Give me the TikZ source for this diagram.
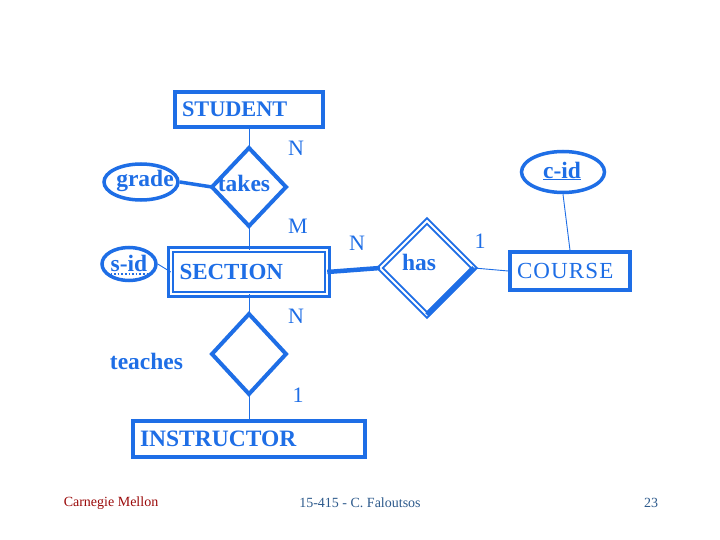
\documentclass[tikz,border=0pt]{standalone}
\usepackage{fontspec}
\setmainfont{Liberation Serif}
\usetikzlibrary{shapes.geometric}
\definecolor{erblue}{RGB}{30,110,230}
\definecolor{footblue}{RGB}{45,90,140}
\definecolor{cmured}{RGB}{155,10,10}
\tikzset{
  ent/.style={draw=erblue, line width=3.5pt, rectangle, text=erblue, align=left, inner xsep=6pt, font=\fontsize{23}{25}\selectfont},
  rel/.style={draw=erblue, line width=4pt, diamond, inner sep=0pt, outer sep=0pt},
  attr/.style={draw=erblue, line width=3.5pt, ellipse, inner sep=0pt},
  lbl/.style={text=erblue, inner sep=0pt, font=\fontsize{22}{24}\selectfont},
  blbl/.style={text=erblue, inner sep=0pt, font=\fontsize{23.5}{25}\selectfont\bfseries},
  thin/.style={draw=erblue, line width=0.9pt},
  thick/.style={draw=erblue, line width=3.5pt},
  foot/.style={inner sep=0pt, font=\fontsize{14}{16}\selectfont},
}
\begin{document}
\begin{tikzpicture}[x=1pt,y=-1pt]
\useasboundingbox (0,0) rectangle (720,540);
\fill[white] (0,0) rectangle (720,540);
% entities
\node[ent, minimum width=148, minimum height=35, text width=134] (student) at (249,109.5) {\bfseries\fontsize{22.3}{25}\selectfont STUDENT};
\node[ent, draw=none, minimum width=153, minimum height=41, text width=139] (section) at (249,272) {\bfseries SECTION};
\draw[erblue, line width=2.5pt, double=white, double distance=2pt] (section.north west) rectangle (section.south east);
\node[ent, minimum width=120, minimum height=38, text width=106] (course) at (570,271) {\addfontfeature{LetterSpace=5}COURSE};
\node[ent, minimum width=232, minimum height=36, text width=218] (instr) at (249,439) {\bfseries\fontsize{23.5}{25}\selectfont INSTRUCTOR};
% relationships
\node[rel, minimum width=74, minimum height=78] (takes) at (249,187) {};
\node[rel, minimum width=74, minimum height=80] (teaches) at (249,354) {};
\node[rel, minimum width=94, minimum height=94, line width=2pt, double=white, double distance=2pt] (has) at (427,268) {};
\draw[erblue, line width=5pt] (has.east) -- (has.south);
\node[blbl] (takesl) at (244,183) {takes};
\node[blbl] (teachesl) at (146.5,361) {teaches};
\node[blbl] (hasl) at (419,262) {has};
% attributes
\node[attr, minimum width=74, minimum height=36] (grade) at (141,182) {};
\node[blbl] (gradel) at (145,181) {grade};
\node[attr, minimum width=54, minimum height=33] (sid) at (129,264) {};
\node[blbl] (sidl) at (129,263) {s-id};
\draw[erblue, line width=1.6pt, dotted] ([yshift=-3pt]sidl.base west) -- ([yshift=-3pt]sidl.base east);
\node[attr, minimum width=83, minimum height=41] (cid) at (563,172) {};
\node[blbl] (cidl) at (562,171) {\underline{c-id}};
% connectors
\draw[thin] (student.south) -- (takes.north);
\draw[thin] (takes.south) -- (section.north);
\draw[thick] (grade.east) -- (takes.west);
\draw[thin] (sid.east) -- (section.west);
\draw[erblue, line width=4.5pt] (section.east) -- (has.west);
\draw[thin] (has.east) -- (course.west);
\draw[thin] (cid.south) -- (course.north);
\draw[thin] (section.south) -- (teaches.north);
\draw[thin] (teaches.south) -- (instr.north);
% cardinalities
\node[lbl] (n1) at (296,148) {N};
\node[lbl] (m1) at (298,226) {M};
\node[lbl] (n2) at (357,243) {N};
\node[lbl] (o1) at (480,241) {1};
\node[lbl] (n3) at (296,316) {N};
\node[lbl] (o2) at (298,395) {1};
% footer
\node[foot, text=cmured] (cmu) at (111,503) {Carnegie Mellon};
\node[foot, text=footblue] (course415) at (360,503) {15-415 - C. Faloutsos};
\node[foot, text=footblue] (page) at (651,503) {23};
\end{tikzpicture}
\end{document}
